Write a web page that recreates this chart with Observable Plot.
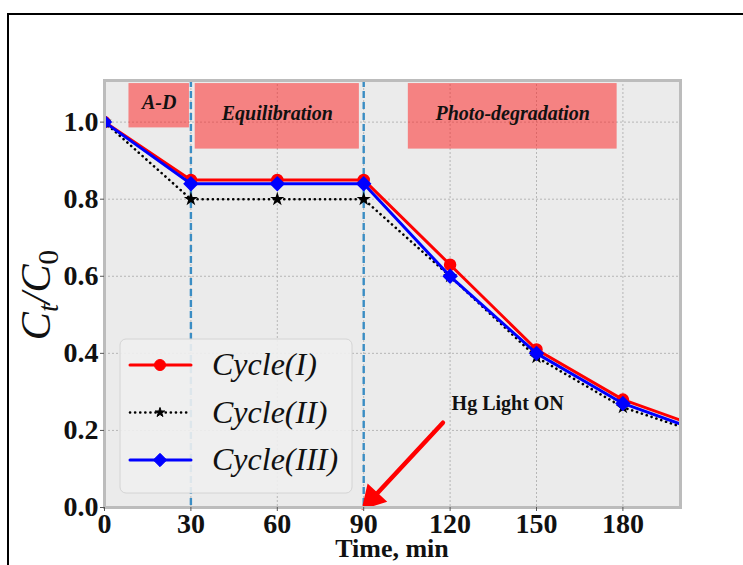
<!DOCTYPE html>
<html><head><meta charset="utf-8">
<script src="https://cdn.jsdelivr.net/npm/d3@7"></script>
<script src="https://cdn.jsdelivr.net/npm/@observablehq/plot@0.6"></script>
<style>
html,body{margin:0;padding:0;background:#fff;overflow:hidden;width:743px;height:565px;}
#wrap{position:relative;width:743px;height:565px;}
#frame{position:absolute;left:7px;top:13px;width:800px;height:700px;border:2px solid #000;box-sizing:border-box;pointer-events:none;}
#chart{position:absolute;left:0;top:0;}
</style></head>
<body><div id="wrap"><div id="chart"></div><div id="frame"></div></div>
<script>
// ---- data ----
const times = [0, 30, 60, 90, 120, 150, 180, 210];
const cycleI = [1.0, 0.85, 0.85, 0.85, 0.63, 0.41, 0.28, 0.20];
const cycleII = [1.0, 0.80, 0.80, 0.80, 0.60, 0.39, 0.26, 0.185];
const cycleIII = [1.0, 0.84, 0.84, 0.84, 0.60, 0.40, 0.27, 0.19];
const seriesNames = ["Cycle(I)", "Cycle(II)", "Cycle(III)"];
const seriesColors = ["#ff0000", "#000000", "#0000ff"];
const seriesSymbols = ["circle", "star", "diamond2"];

const phaseNames = ["A-D", "Equilibration", "Photo-degradation"];
const phaseStart = [8.5, 31.5, 105.5];
const phaseEnd = [29.5, 88.5, 178];
const phaseBottom = [0.985, 0.93, 0.93];
const phaseTop = [1.10, 1.10, 1.10];
const phaseLabelY = [1.05, 1.022, 1.022];

const phaseLines = [30, 90];
const xTicks = [0, 30, 60, 90, 120, 150, 180];
const yTicks = [0.0, 0.2, 0.4, 0.6, 0.8, 1.0];
const xLabel = "Time, min";

const annotText = "Hg Light ON";
const annotTextPos = [140, 0.27];
const annotArrowFrom = [117.5, 0.22];
const annotArrowTo = [90.5, 0.003];

// ---- build tables ----
const allSeries = [cycleI, cycleII, cycleIII];
const rows = [];
allSeries.forEach((vals, s) => vals.forEach((v, i) => rows.push({t: times[i], v, s: seriesNames[s]})));
const phases = phaseNames.map((n, i) => ({n, x1: phaseStart[i], x2: phaseEnd[i], y1: phaseBottom[i], y2: phaseTop[i], ly: phaseLabelY[i]}));
const serif = "'Liberation Serif', 'DejaVu Serif', serif";

const lineStyles = [
  {strokeWidth: 3, strokeDasharray: null, r: 5.5},
  {strokeWidth: 2.6, strokeDasharray: "0.1,5", r: 3},
  {strokeWidth: 3, strokeDasharray: null, r: 6}
];

const seriesMarks = [];
seriesNames.forEach((name, i) => {
  const d = rows.filter(r => r.s === name);
  seriesMarks.push(Plot.line(d, {x: "t", y: "v", stroke: seriesColors[i], strokeWidth: lineStyles[i].strokeWidth,
    strokeDasharray: lineStyles[i].strokeDasharray, strokeLinecap: "round", clip: true}));
  seriesMarks.push(Plot.dot(d, {x: "t", y: "v", fill: seriesColors[i], stroke: seriesColors[i], symbol: seriesSymbols[i], r: lineStyles[i].r, clip: true}));
});

const chart = Plot.plot({
  width: 743, height: 565,
  marginLeft: 104, marginRight: 63, marginTop: 80, marginBottom: 58,
  style: {fontFamily: serif, background: "transparent"},
  x: {domain: [0, 200]},
  y: {domain: [0, 1.108]},
  marks: [
    Plot.frame({fill: "#ebebeb", stroke: null}),
    Plot.gridX(xTicks, {stroke: "#a8a8a8", strokeOpacity: 1, strokeDasharray: "2,2", strokeWidth: 0.8}),
    Plot.gridY(yTicks, {stroke: "#a8a8a8", strokeOpacity: 1, strokeDasharray: "2,2", strokeWidth: 0.8}),
    Plot.rect(phases, {x1: "x1", x2: "x2", y1: "y1", y2: "y2", fill: "#ff1a1a", fillOpacity: 0.5}),
    Plot.text(phases, {x: d => (d.x1 + d.x2) / 2, y: "ly", text: "n", fontSize: 20, fontWeight: "bold", fontStyle: "italic", fill: "#111", fontFamily: serif}),
    Plot.ruleX(phaseLines, {stroke: "#3a8dc4", strokeWidth: 2.4, strokeDasharray: "7,4"}),
    ...seriesMarks,
    Plot.arrow([0], {x1: () => annotArrowFrom[0], y1: () => annotArrowFrom[1], x2: () => annotArrowTo[0], y2: () => annotArrowTo[1],
      stroke: "#ff0000", strokeWidth: 4.5, headLength: 0, insetEnd: 10}),
    Plot.dot([0], {x: () => annotArrowTo[0], y: () => annotArrowTo[1], symbol: "triangle", r: 9, fill: "#ff0000", stroke: "#ff0000",
      rotate: 223, dx: 7, dy: -8}),
    Plot.text([annotText], {x: () => annotTextPos[0], y: () => annotTextPos[1], text: d => d, fontSize: 20, fontWeight: "bold", fill: "#111", fontFamily: serif}),
    Plot.frame({stroke: "#bcbcbc", strokeWidth: 3}),
    Plot.axisX(xTicks, {tickFormat: d => String(d), fontSize: 28, fontWeight: "bold", tickSize: 4, tickPadding: 2, stroke: "#555", fill: "#111", label: null}),
    Plot.axisY(yTicks, {tickFormat: d => d.toFixed(1), fontSize: 28, fontWeight: "bold", tickSize: 4, tickPadding: 2, stroke: "#555", fill: "#111", label: null})
  ]
});
document.getElementById("chart").appendChild(chart);

const svg = d3.select(chart);

// x-axis label
svg.append("text").attr("x", 392).attr("y", 557).attr("text-anchor", "middle").attr("font-family", serif)
  .attr("font-weight", "bold").style("font-size", "26px").attr("fill", "#111").text(xLabel);

// y-axis label (math style)
const yl = svg.append("text").attr("transform", "translate(50,295) rotate(-90)").attr("text-anchor", "middle")
  .attr("font-family", serif).attr("font-style", "italic").style("font-size", "42px").attr("fill", "#111");
yl.append("tspan").text("C");
yl.append("tspan").style("font-size", "29px").attr("dy", 8).text("t");
yl.append("tspan").attr("dy", -8).text("/C");
yl.append("tspan").style("font-size", "29px").attr("font-style", "normal").attr("dy", 8).text("0");

// legend
const lg = svg.append("g").attr("text-anchor", "start");
lg.append("rect").attr("x", 120).attr("y", 339).attr("width", 232).attr("height", 154).attr("rx", 6)
  .attr("fill", "#efefef").attr("fill-opacity", 0.9).attr("stroke", "#d4d4d4").attr("stroke-width", 1);
seriesNames.forEach((name, i) => {
  const y = 365 + i * 47.5;
  lg.append("line").attr("x1", 130).attr("x2", 191).attr("y1", y).attr("y2", y)
    .attr("stroke", seriesColors[i]).attr("stroke-width", lineStyles[i].strokeWidth)
    .attr("stroke-dasharray", lineStyles[i].strokeDasharray).attr("stroke-linecap", "round");
  const sym = {circle: d3.symbolCircle, star: d3.symbolStar, diamond2: d3.symbolDiamond2}[seriesSymbols[i]];
  const r = lineStyles[i].r;
  lg.append("path").attr("transform", `translate(160,${y})`).attr("d", d3.symbol(sym, Math.PI * r * r)())
    .attr("fill", seriesColors[i]).attr("stroke", seriesColors[i]);
  lg.append("text").attr("x", 212).attr("y", y + 10).attr("text-anchor", "start").attr("font-family", serif).attr("font-style", "italic")
    .style("font-size", "32px").attr("fill", "#111").text(name);
});
</script>
</body></html>
